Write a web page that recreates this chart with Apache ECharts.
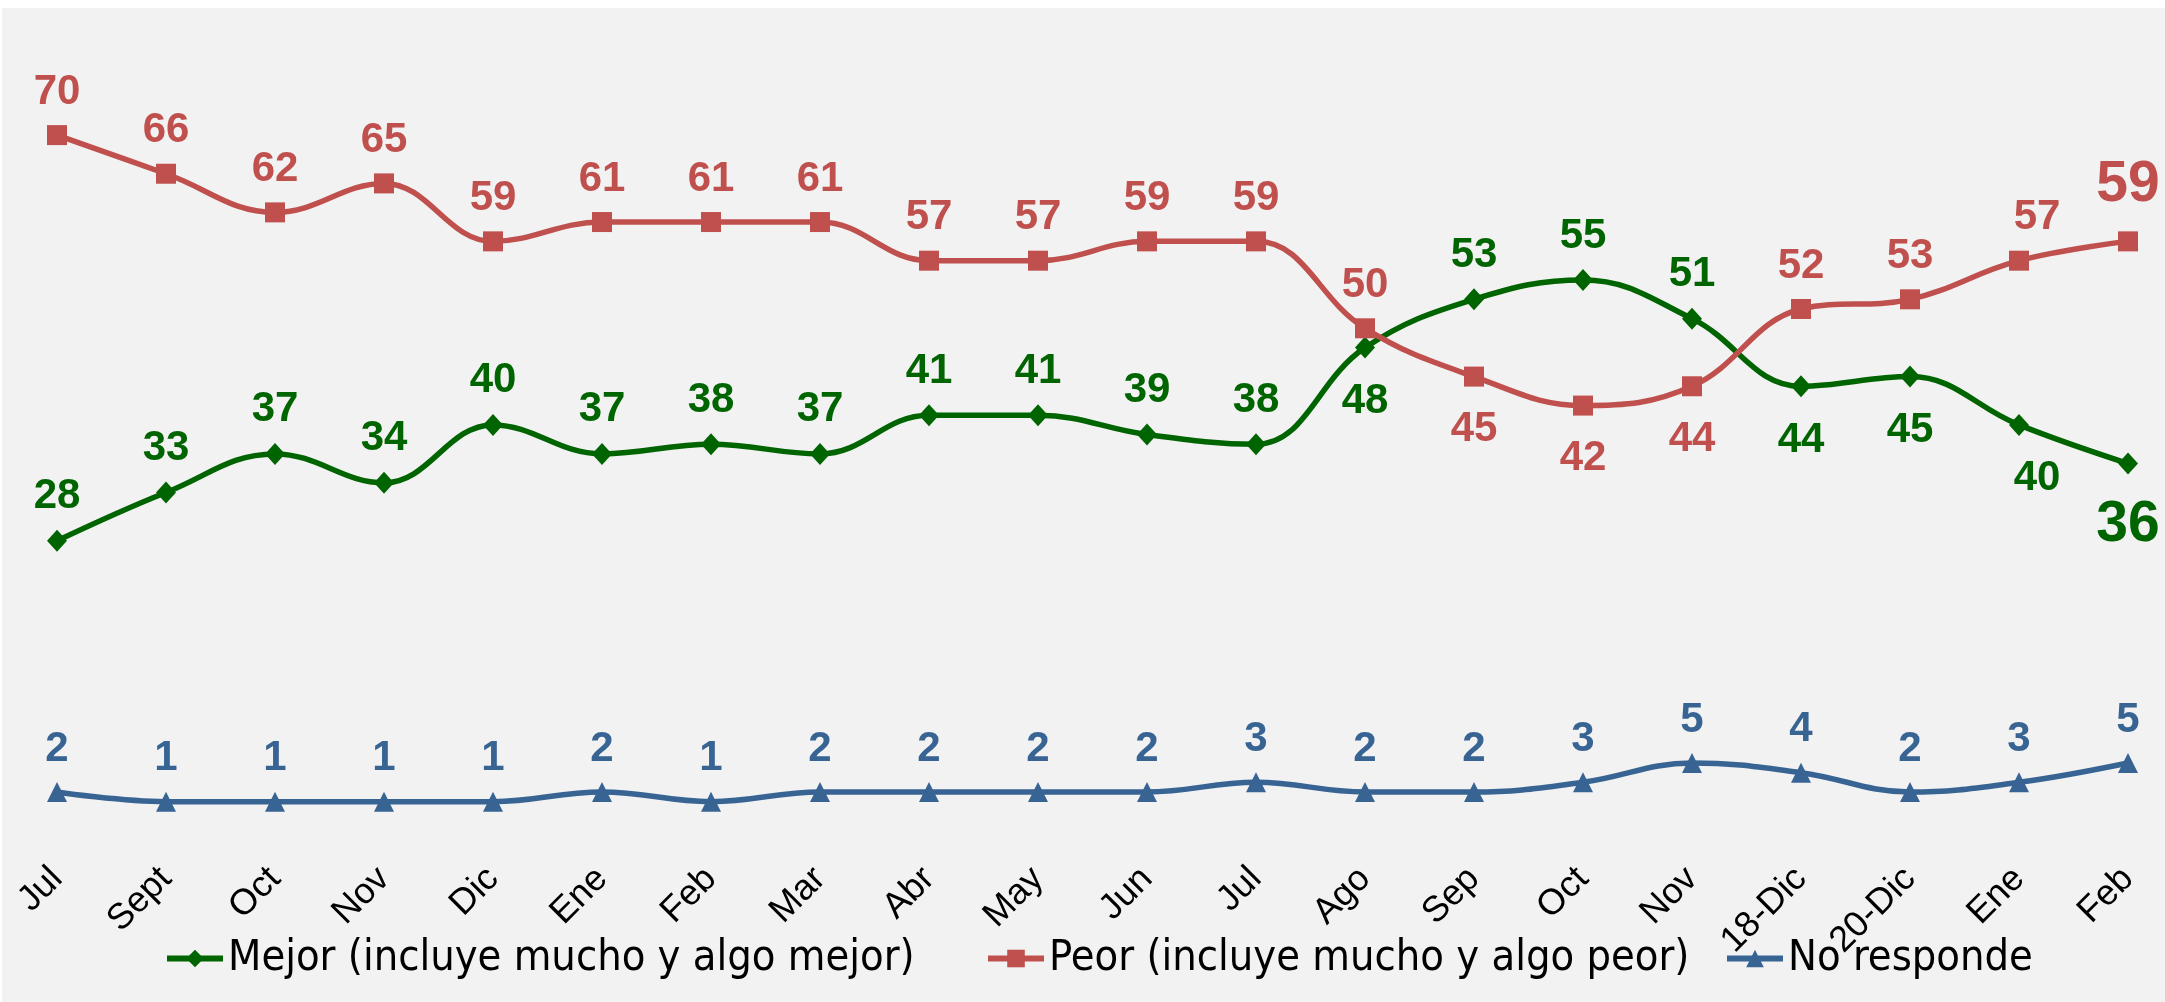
<!DOCTYPE html>
<html>
<head>
<meta charset="utf-8">
<script src="https://cdn.jsdelivr.net/npm/echarts@6/dist/echarts.min.js"></script>
<style>
html, body { margin: 0; padding: 0; background: #ffffff; }
#bg { position: absolute; left: 2px; top: 8px; width: 2163px; height: 994px; background: #f2f2f2; }
#main { position: absolute; left: 0; top: 0; width: 2165px; height: 1002px; }
</style>
</head>
<body>
<div id="bg"></div>
<div id="main"></div>
<script>
// datos
var meses = ['Jul', 'Sept', 'Oct', 'Nov', 'Dic', 'Ene', 'Feb', 'Mar', 'Abr', 'May', 'Jun', 'Jul', 'Ago', 'Sep', 'Oct', 'Nov', '18-Dic', '20-Dic', 'Ene', 'Feb'];
var mejor = [28, 33, 37, 34, 40, 37, 38, 37, 41, 41, 39, 38, 48, 53, 55, 51, 44, 45, 40, 36];
var peor = [70, 66, 62, 65, 59, 61, 61, 61, 57, 57, 59, 59, 50, 45, 42, 44, 52, 53, 57, 59];
var noResponde = [2, 1, 1, 1, 1, 2, 1, 2, 2, 2, 2, 3, 2, 2, 3, 5, 4, 2, 3, 5];

var nombres = ['Mejor (incluye mucho y algo mejor)', 'Peor (incluye mucho y algo peor)', 'No responde'];

// etiquetas debajo del punto
var mejorAbajo = [12, 16, 17, 18, 19];
var peorAbajo = [13, 14, 15];

var verde = '#006400';
var rojo = '#c0504d';
var azul = '#386494';

var fuenteNum = "'Liberation Sans', Arial, sans-serif";
var fuenteTxt = "'Liberation Sans Narrow', 'DejaVu Sans Condensed', sans-serif";

function armar(valores, abajo, color) {
	var ultimo = valores.length - 1;
	return valores.map(function (v, i) {
		var debajo = abajo.indexOf(i) >= 0;
		var lab = {
			position: debajo ? 'bottom' : 'top',
			distance: debajo ? 22 : 12
		};
		if (i === ultimo && (color === verde || color === rojo)) {
			lab.fontSize = 57;
			lab.distance = debajo ? 22 : 18;
		}
		if (i === 18 && color !== azul) {
			lab.offset = [18, 0];
		}
		return { value: v, label: lab };
	});
}

var myChart = echarts.init(document.getElementById('main'));

function serie(nombre, valores, abajo, color, simbolo) {
	return {
		name: nombre,
		type: 'line',
		smooth: 0.4,
		data: armar(valores, abajo, color),
		symbol: simbolo,
		symbolSize: simbolo === 'diamond' ? [20, 22] : 20,
		lineStyle: { color: color, width: 5.5 },
		itemStyle: { color: color },
		label: {
			show: true,
			color: color,
			fontFamily: fuenteNum,
			fontWeight: 'bold',
			fontSize: 42
		}
	};
}

function leyenda(nombre, x) {
	return {
		data: [nombre],
		left: x,
		top: 932,
		itemWidth: 56,
		itemHeight: 22,
		lineStyle: { width: 6 },
		textStyle: { fontFamily: fuenteTxt, fontSize: 43, color: '#000' }
	};
}

option = {
	animation: false,
	grid: { left: 57, right: 37, top: 38.5, bottom: 190.7 },
	legend: [
		leyenda(nombres[0], 159),
		leyenda(nombres[1], 980),
		leyenda(nombres[2], 1719)
	],
	xAxis: {
		type: 'category',
		boundaryGap: false,
		data: meses,
		axisLine: { show: false },
		axisTick: { show: false },
		axisLabel: {
			rotate: 45,
			interval: 0,
			margin: 62,
			color: '#000',
			fontFamily: fuenteNum,
			fontSize: 36
		}
	},
	yAxis: {
		type: 'value',
		min: 0,
		max: 80,
		show: false
	},
	series: [
		serie(nombres[0], mejor, mejorAbajo, verde, 'diamond'),
		serie(nombres[1], peor, peorAbajo, rojo, 'rect'),
		serie(nombres[2], noResponde, [], azul, 'triangle')
	]
};

myChart.setOption(option);
</script>
</body>
</html>
